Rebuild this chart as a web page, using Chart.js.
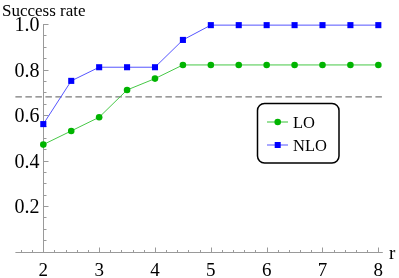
<!DOCTYPE html>
<html>
<head>
<meta charset="utf-8">
<script src="https://cdn.jsdelivr.net/npm/chart.js@4.4.1/dist/chart.umd.min.js"></script>
<style>
  html, body { margin: 0; padding: 0; background: #fff; }
</style>
</head>
<body>
<canvas id="chart" width="399" height="278"></canvas>
<script>
// Data
const rValues  = [2, 2.5, 3, 3.5, 4, 4.5, 5, 5.5, 6, 6.5, 7, 7.5, 8];
const loRates  = [0.47, 0.53, 0.59, 0.71, 0.76, 0.82, 0.82, 0.82, 0.82, 0.82, 0.82, 0.82, 0.82];
const nloRates = [0.56, 0.75, 0.81, 0.81, 0.81, 0.93, 0.995, 0.995, 0.995, 0.995, 0.995, 0.995, 0.995];
const thresholdRate = 0.68;

const xRange = [1.5, 8.08];
const yRange = [0, 1.0];
const xTicks = [2, 3, 4, 5, 6, 7, 8];
const yTicks = [0.2, 0.4, 0.6, 0.8, 1.0];
const yTickLabels = ['0.2', '0.4', '0.6', '0.8', '1.0'];

const serif = '"Liberation Serif", "DejaVu Serif", serif';

function toPoints(xs, ys) {
    return xs.map((x, i) => ({ x: x, y: ys[i] }));
}

// Mathematica-style axes crossing at (2, 0), ticks pointing inward
const axesPlugin = {
    id: 'mmaAxes',
    beforeDatasetsDraw(chart) {
        const ctx = chart.ctx;
        const xs = chart.scales.x, ys = chart.scales.y;
        const ax = Math.round(xs.getPixelForValue(2)) + 0.5;
        const ay = Math.round(ys.getPixelForValue(0)) + 0.5;

        ctx.save();
        ctx.strokeStyle = '#9a9a9a';
        ctx.lineWidth = 1;

        // axis lines
        ctx.beginPath();
        ctx.moveTo(xs.left, ay);
        ctx.lineTo(xs.right, ay);
        ctx.moveTo(ax, ay);
        ctx.lineTo(ax, ys.getPixelForValue(1.0));
        ctx.stroke();

        // x ticks: major every 1, minor every 0.2
        ctx.beginPath();
        for (let k = 8; k <= 40; k++) {
            const px = Math.round(xs.getPixelForValue(k / 5)) + 0.5;
            const len = k % 5 === 0 ? 5 : 2.5;
            ctx.moveTo(px, ay);
            ctx.lineTo(px, ay - len);
        }
        // y ticks: major every 0.2, minor every 0.05
        for (let k = 1; k <= 20; k++) {
            const py = Math.round(ys.getPixelForValue(k / 20)) + 0.5;
            const len = k % 4 === 0 ? 5 : 3;
            ctx.moveTo(ax, py);
            ctx.lineTo(ax + len, py);
        }
        ctx.stroke();

        // tick labels
        ctx.fillStyle = '#000';
        ctx.font = '19px ' + serif;
        ctx.textAlign = 'center';
        ctx.textBaseline = 'alphabetic';
        xTicks.forEach(v => {
            ctx.fillText(String(v), xs.getPixelForValue(v), ay + 23.5);
        });
        ctx.font = '20px ' + serif;
        ctx.textAlign = 'right';
        yTicks.forEach((v, i) => {
            ctx.fillText(yTickLabels[i], ax - 4, ys.getPixelForValue(v) + 7);
        });

        // axis labels
        ctx.font = '19px ' + serif;
        ctx.textAlign = 'left';
        ctx.fillText('r', 389, ay + 6);
        ctx.font = '17px ' + serif;
        ctx.fillText('Success rate', 2, 16);
        ctx.restore();
    }
};

// Framed legend inside the plot
const legendPlugin = {
    id: 'boxLegend',
    afterDatasetsDraw(chart) {
        const ctx = chart.ctx;
        const items = [
            { label: 'LO',  line: 'rgb(120,215,120)', fill: '#00b400', style: 'circle', y: 122 },
            { label: 'NLO', line: 'rgb(140,140,255)', fill: '#0000ff', style: 'rect',   y: 145 }
        ];
        ctx.save();
        ctx.beginPath();
        ctx.roundRect(257.5, 103.5, 81.5, 59.5, 7);
        ctx.fillStyle = '#fff';
        ctx.fill();
        ctx.lineWidth = 1.5;
        ctx.strokeStyle = '#000';
        ctx.stroke();

        items.forEach(it => {
            ctx.strokeStyle = it.line;
            ctx.lineWidth = 1.5;
            ctx.beginPath();
            ctx.moveTo(267, it.y);
            ctx.lineTo(288, it.y);
            ctx.stroke();
            ctx.fillStyle = it.fill;
            ctx.beginPath();
            if (it.style === 'circle') {
                ctx.arc(277.7, it.y, 3.3, 0, Math.PI * 2);
            } else {
                ctx.rect(274.7, it.y - 3, 6, 6);
            }
            ctx.fill();
            ctx.fillStyle = '#000';
            ctx.font = '16.5px ' + serif;
            ctx.textAlign = 'left';
            ctx.textBaseline = 'alphabetic';
            ctx.fillText(it.label, 293, it.y + 5.5);
        });
        ctx.restore();
    }
};

new Chart(document.getElementById('chart'), {
    type: 'line',
    data: {
        datasets: [
            {
                label: 'NLO',
                data: toPoints(rValues, nloRates),
                borderColor: 'rgb(85,85,255)',
                borderWidth: 1,
                pointStyle: 'rect',
                pointRadius: 4.3,
                pointBorderWidth: 0,
                pointBackgroundColor: '#0000ff',
                clip: false
            },
            {
                label: 'LO',
                data: toPoints(rValues, loRates),
                borderColor: 'rgb(70,200,70)',
                borderWidth: 1,
                pointStyle: 'circle',
                pointRadius: 3.3,
                pointBorderWidth: 0,
                pointBackgroundColor: '#00b400',
                clip: false
            },
            {
                label: 'threshold',
                data: [{ x: xRange[0], y: thresholdRate }, { x: xRange[1], y: thresholdRate }],
                borderColor: '#7a7a7a',
                borderWidth: 1.3,
                borderDash: [6.5, 3.5],
                pointRadius: 0,
                clip: false
            }
        ]
    },
    options: {
        responsive: false,
        animation: false,
        layout: { padding: { left: 15.4, right: 16.2, top: 24, bottom: 26.5 } },
        scales: {
            x: { type: 'linear', min: xRange[0], max: xRange[1], display: false },
            y: { type: 'linear', min: yRange[0], max: yRange[1], display: false }
        },
        plugins: {
            legend: { display: false },
            tooltip: { enabled: false }
        }
    },
    plugins: [axesPlugin, legendPlugin]
});
</script>
</body>
</html>
